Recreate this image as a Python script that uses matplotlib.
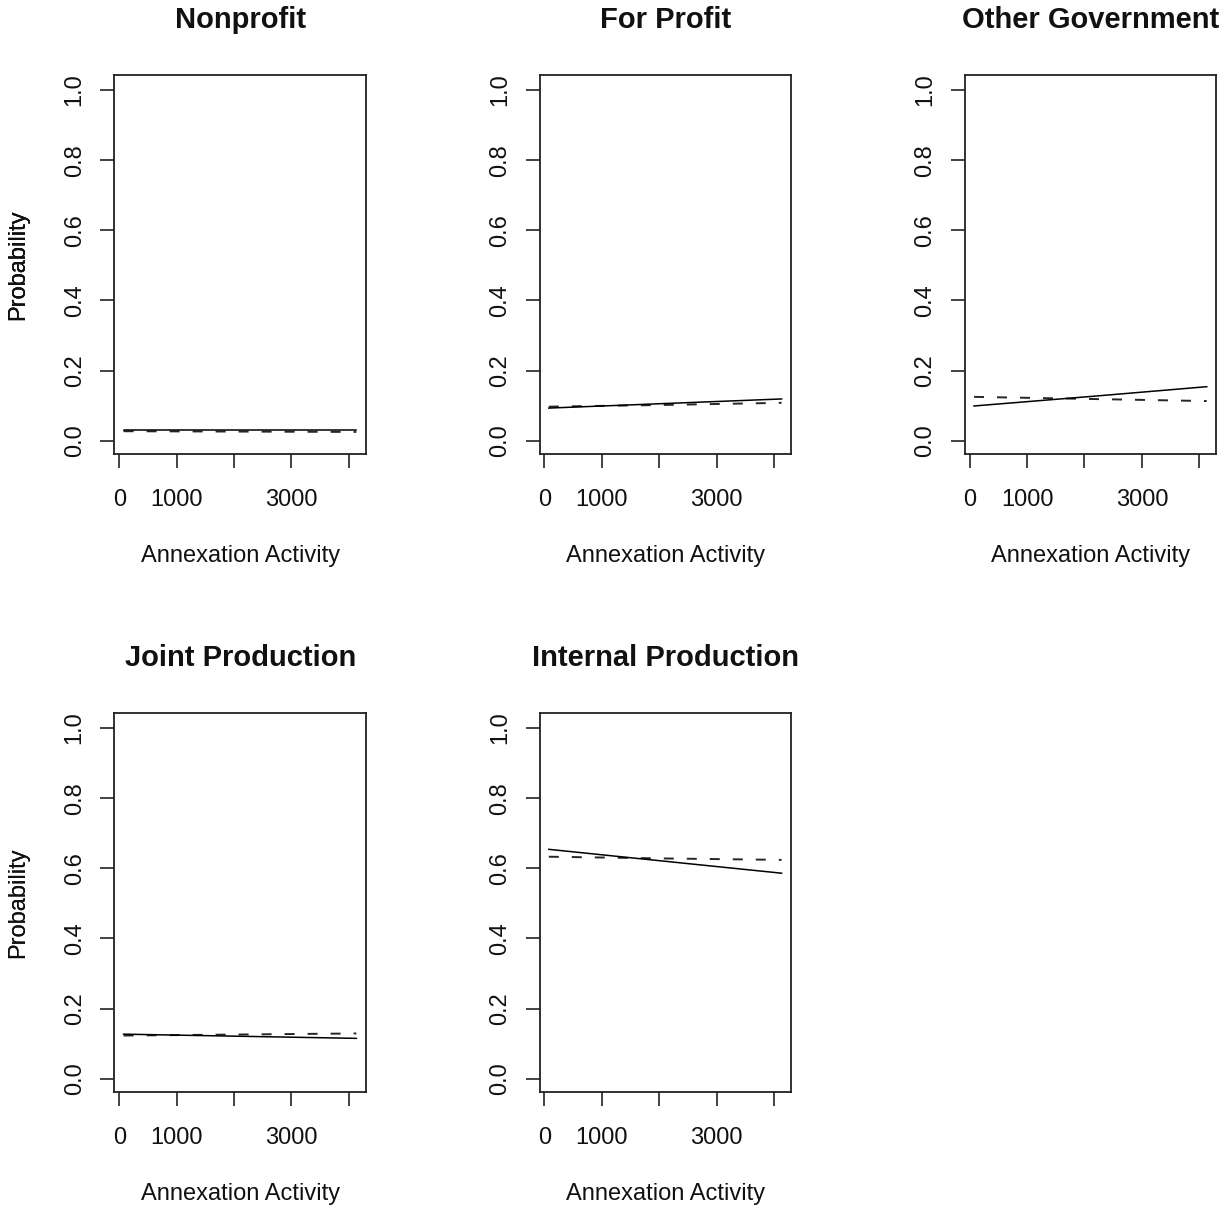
import matplotlib
matplotlib.use("Agg")
import matplotlib.pyplot as plt

plt.rcParams["font.family"] = ["Liberation Sans", "DejaVu Sans"]

# Predicted probabilities of each service-delivery mode across annexation activity
panel_titles = ["Nonprofit", "For Profit", "Other Government",
                "Joint Production", "Internal Production"]
annexation = [75, 2100, 4130]
solid_probs = [
    [0.030, 0.030, 0.030],
    [0.093, 0.106, 0.119],
    [0.099, 0.126, 0.154],
    [0.127, 0.121, 0.115],
    [0.654, 0.620, 0.586],
]
dashed_probs = [
    [0.027, 0.026, 0.025],
    [0.097, 0.102, 0.108],
    [0.125, 0.119, 0.113],
    [0.123, 0.126, 0.129],
    [0.633, 0.628, 0.624],
]
x_ticks = [0, 1000, 2000, 3000, 4000]
x_tick_labels = ["0", "1000", "", "3000", ""]
y_ticks = [0.0, 0.2, 0.4, 0.6, 0.8, 1.0]
y_tick_labels = ["0.0", "0.2", "0.4", "0.6", "0.8", "1.0"]
x_label = "Annexation Activity"
y_label = "Probability"

W, H = 1220, 1205
DPI = 100
fig = plt.figure(figsize=(W / DPI, H / DPI), dpi=DPI)

col_left = [114.3, 539.5, 964.7]
row_top = [75.0, 713.0]
ax_w, ax_h = 251.7, 379.3

px = DPI / 72.0
lw = 1.1
dlw = 1.4
dash = (10 / px / dlw, 13 / px / dlw)

for i, title in enumerate(panel_titles):
    r, c = divmod(i, 3)
    left = col_left[c]
    top = row_top[r]
    ax = fig.add_axes([left / W, 1 - (top + ax_h) / H, ax_w / W, ax_h / H])

    ax.plot(annexation, dashed_probs[i], color="#262626", lw=dlw,
            linestyle=(0, dash))
    ax.plot(annexation, solid_probs[i], color="black", lw=lw)

    ax.set_xlim(-87, 4298)
    ax.set_ylim(-0.0388, 1.0428)

    ax.set_xticks(x_ticks, labels=x_tick_labels)
    ax.set_yticks(y_ticks, labels=y_tick_labels)
    for lab in ax.get_yticklabels():
        lab.set_rotation(90)
        lab.set_verticalalignment("center")
    ax.tick_params(axis="both", direction="out", length=14 / px,
                   width=1.2, color="#222222", labelsize=17,
                   labelcolor="#111111")
    ax.tick_params(axis="x", pad=15)
    ax.tick_params(axis="y", pad=10.5)

    for s in ax.spines.values():
        s.set_linewidth(1.3)
        s.set_color("#222222")

    ax.text(0.5, 1 + 47 / ax_h, title, transform=ax.transAxes,
            ha="center", va="baseline", fontsize=21, fontweight="bold",
            color="#111111")
    ax.text(0.5, -107.7 / ax_h, x_label, transform=ax.transAxes,
            ha="center", va="baseline", fontsize=17, color="#111111")
    ax.text(-(left - 18) / ax_w, 0.5, y_label, transform=ax.transAxes,
            ha="center", va="center", rotation=90, fontsize=17,
            color="#111111")

fig.savefig("out.png", dpi=DPI)
